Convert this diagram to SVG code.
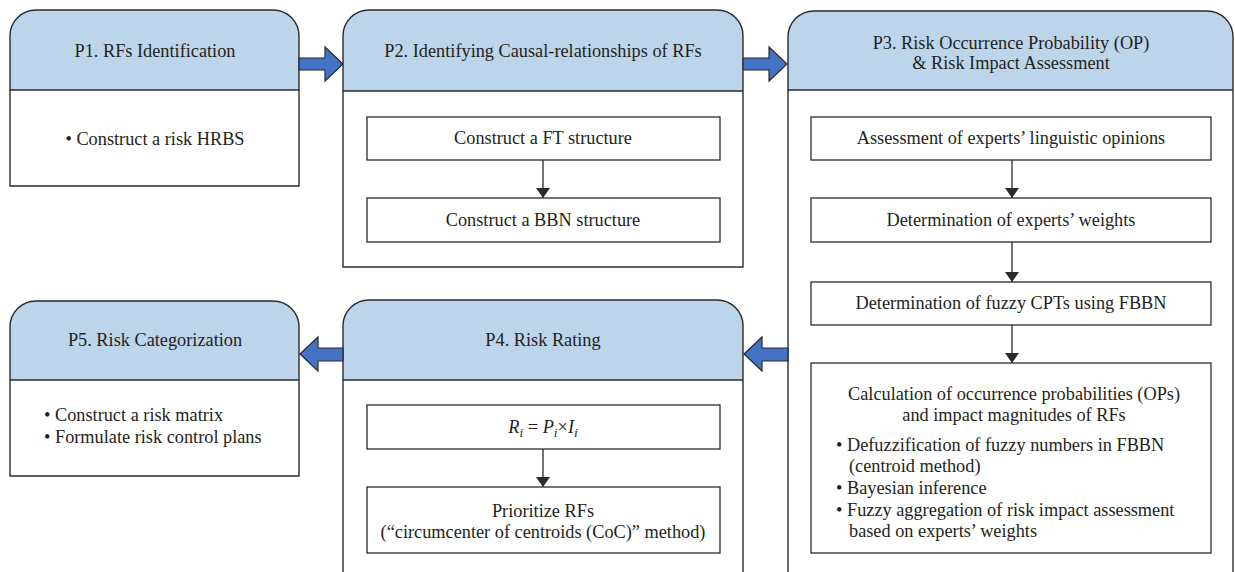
<svg xmlns="http://www.w3.org/2000/svg" width="1235" height="572" viewBox="0 0 1235 572">
<style>
.panel{fill:none;stroke:#2b2b2b;stroke-width:1.4}
.head{fill:#bdd5ea;stroke:none}
.div{stroke:#2b2b2b;stroke-width:1.4}
.box{fill:#ffffff;stroke:#2b2b2b;stroke-width:1.3}
.big{fill:#4472c4;stroke:#2b2b2b;stroke-width:1.2;stroke-linejoin:miter}
.con{stroke:#2b2b2b;stroke-width:1.3;fill:none;marker-end:url(#ah)}
text{font-family:"Liberation Serif","Times New Roman",serif;font-size:18.3px;fill:#231f20}
.c{text-anchor:middle}
.i{font-style:italic}
</style>
<defs>
<marker id="ah" markerWidth="10" markerHeight="14" refX="10" refY="7" orient="auto" markerUnits="userSpaceOnUse" viewBox="0 0 10 14">
<path d="M0,7 L0,0 L10,7 L0,14 Z" fill="#2b2b2b"/>
</marker>
</defs>
<g id="P1">
<path class="head" d="M10,90 V36 A26,26 0 0 1 36,10 H273 A26,26 0 0 1 299,36 V90 Z"/>
<path class="panel" d="M10,186 V36 A26,26 0 0 1 36,10 H273 A26,26 0 0 1 299,36 V186 Z"/>
<line class="div" x1="10" y1="90" x2="299" y2="90"/>
<text class="c" x="155" y="57">P1. RFs Identification</text>
<text class="c" x="155" y="145">• Construct a risk HRBS</text>
</g>
<g id="P2">
<path class="head" d="M343,91 V36 A26,26 0 0 1 369,10 H717 A26,26 0 0 1 743,36 V91 Z"/>
<path class="panel" d="M343,267 V36 A26,26 0 0 1 369,10 H717 A26,26 0 0 1 743,36 V267 Z"/>
<line class="div" x1="343" y1="91" x2="743" y2="91"/>
<text class="c" x="543" y="57">P2. Identifying Causal-relationships of RFs</text>
<rect class="box" x="367" y="117" width="353" height="43"/>
<text class="c" x="543" y="144">Construct a FT structure</text>
<rect class="box" x="367" y="198" width="353" height="44"/>
<text class="c" x="543" y="226">Construct a BBN structure</text>
</g>
<g id="P3">
<path class="head" d="M788,90 V37 A26,26 0 0 1 814,11 H1207 A26,26 0 0 1 1233,37 V90 Z"/>
<path class="panel" d="M788,590 V37 A26,26 0 0 1 814,11 H1207 A26,26 0 0 1 1233,37 V590"/>
<line class="div" x1="788" y1="90" x2="1233" y2="90"/>
<text class="c" x="1011" y="49">P3. Risk Occurrence Probability (OP)</text>
<text class="c" x="1011" y="69">&amp; Risk Impact Assessment</text>
<rect class="box" x="811" y="117" width="400" height="43"/>
<text class="c" x="1011" y="144">Assessment of experts’ linguistic opinions</text>
<rect class="box" x="811" y="198" width="400" height="44"/>
<text class="c" x="1011" y="226">Determination of experts’ weights</text>
<rect class="box" x="811" y="282" width="400" height="43"/>
<text class="c" x="1011" y="309">Determination of fuzzy CPTs using FBBN</text>
<rect class="box" x="811" y="363" width="400" height="190"/>
<text class="c" x="1014" y="400">Calculation of occurrence probabilities (OPs)</text>
<text class="c" x="1014" y="421">and impact magnitudes of RFs</text>
<text x="836" y="451">• Defuzzification of fuzzy numbers in FBBN</text>
<text x="849" y="472">(centroid method)</text>
<text x="836" y="494">• Bayesian inference</text>
<text x="836" y="516">• Fuzzy aggregation of risk impact assessment</text>
<text x="849" y="537">based on experts’ weights</text>
</g>
<g id="P4">
<path class="head" d="M343,380 V326 A26,26 0 0 1 369,300 H717 A26,26 0 0 1 743,326 V380 Z"/>
<path class="panel" d="M343,590 V326 A26,26 0 0 1 369,300 H717 A26,26 0 0 1 743,326 V590"/>
<line class="div" x1="343" y1="380" x2="743" y2="380"/>
<text class="c" x="543" y="346">P4. Risk Rating</text>
<rect class="box" x="367" y="405" width="353" height="44"/>
<text class="c" x="543" y="433"><tspan class="i">R</tspan><tspan class="i" font-size="13.5" dy="4">i</tspan><tspan dy="-4"> = </tspan><tspan class="i">P</tspan><tspan class="i" font-size="13.5" dy="4">i</tspan><tspan dy="-4">×</tspan><tspan class="i">I</tspan><tspan class="i" font-size="13.5" dy="4">i</tspan></text>
<rect class="box" x="367" y="487" width="353" height="66"/>
<text class="c" x="543" y="517">Prioritize RFs</text>
<text class="c" x="543" y="538">(“circumcenter of centroids (CoC)” method)</text>
</g>
<g id="P5">
<path class="head" d="M10,380 V327 A26,26 0 0 1 36,301 H273 A26,26 0 0 1 299,327 V380 Z"/>
<path class="panel" d="M10,476 V327 A26,26 0 0 1 36,301 H273 A26,26 0 0 1 299,327 V476 Z"/>
<line class="div" x1="10" y1="380" x2="299" y2="380"/>
<text class="c" x="155" y="346">P5. Risk Categorization</text>
<text x="44" y="421">• Construct a risk matrix</text>
<text x="44" y="443">• Formulate risk control plans</text>
</g>
<g id="connectors">
<polygon class="big" points="299,58 325,58 325,47 343,64 325,81 325,70 299,70"/>
<polygon class="big" points="743,58 769,58 769,47 787,64 769,81 769,70 743,70"/>
<polygon class="big" points="788,348 762,348 762,337 744,354 762,371 762,361 788,361"/>
<polygon class="big" points="343,348 318,348 318,337 300,354 318,371 318,361 343,361"/>
<line class="con" x1="543" y1="160" x2="543" y2="198"/>
<line class="con" x1="1012" y1="160" x2="1012" y2="198"/>
<line class="con" x1="1012" y1="242" x2="1012" y2="282"/>
<line class="con" x1="1012" y1="325" x2="1012" y2="363"/>
<line class="con" x1="543" y1="449" x2="543" y2="487"/>
</g>
</svg>
